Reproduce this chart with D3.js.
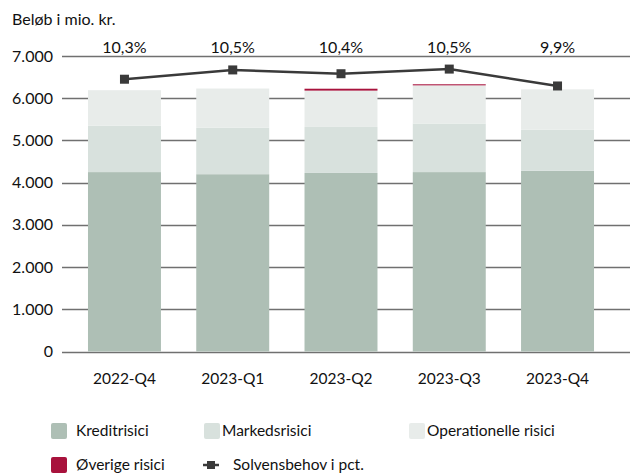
<!DOCTYPE html>
<html lang="da">
<head>
<meta charset="utf-8">
<title>Solvensbehov</title>
<script src="https://cdn.jsdelivr.net/npm/d3@7"></script>
<style>
  body { margin: 0; background: #fff; }
  text { font-family: Lato, "Open Sans", sans-serif; fill: #111; }
</style>
</head>
<body>
<script>
// data (mio. kr.)
var quarters = ["2022-Q4", "2023-Q1", "2023-Q2", "2023-Q3", "2023-Q4"];
var kredit = [4250, 4200, 4230, 4250, 4280];
var markeds = [1100, 1100, 1090, 1150, 975];
var operationel = [840, 930, 860, 905, 955];
var oevrige = [0, 0, 45, 25, 0];
var solvensBeloeb = [6450, 6670, 6580, 6690, 6290];
var solvensPct = ["10,3%", "10,5%", "10,4%", "10,5%", "9,9%"];
var yTicks = [0, 1000, 2000, 3000, 4000, 5000, 6000, 7000];

var seriesNames = ["Kreditrisici", "Markedsrisici", "Operationelle risici", "Øverige risici"];
var colors = ["#aebfb5", "#d8e1dd", "#e8ecea", "#a8123c"];

var w = 630, h = 473;

var svg = d3.select("body").append("svg")
  .attr("width", w)
  .attr("height", h);

var x = d3.scaleBand()
  .domain(quarters)
  .range([62, 620])
  .paddingInner(0.326)
  .paddingOuter(0.24);

var y = d3.scaleLinear()
  .domain([0, 7000])
  .range([351.5, 56]);

// gridlines
svg.append("g")
  .selectAll("line")
  .data(yTicks)
  .enter().append("line")
  .attr("x1", 62)
  .attr("x2", w)
  .attr("y1", function(d) { return Math.round(y(d)) + 0.5; })
  .attr("y2", function(d) { return Math.round(y(d)) + 0.5; })
  .attr("stroke", "#707070")
  .attr("stroke-width", 1.5);

// y tick labels
svg.append("g")
  .selectAll("text")
  .data(yTicks)
  .enter().append("text")
  .attr("x", 53)
  .attr("y", function(d) { return y(d); })
  .attr("dy", "0.35em")
  .attr("text-anchor", "end")
  .attr("font-size", "16px")
  .text(function(d) { return d3.format(",")(d).replace(/,/g, "."); });

svg.append("text")
  .attr("x", 12)
  .attr("y", 25)
  .attr("font-size", "16px")
  .text("Beløb i mio. kr.");

// stacked bars
var table = quarters.map(function(q, i) {
  return { q: q, k: kredit[i], m: markeds[i], o: operationel[i], v: oevrige[i] };
});
var stack = d3.stack().keys(["k", "m", "o", "v"])(table);

svg.append("g")
  .selectAll("g")
  .data(stack)
  .enter().append("g")
  .attr("fill", function(d, i) { return colors[i]; })
  .selectAll("rect")
  .data(function(d) { return d; })
  .enter().append("rect")
  .attr("x", function(d) { return x(d.data.q); })
  .attr("y", function(d) { return y(d[1]); })
  .attr("width", x.bandwidth())
  .attr("height", function(d) { return y(d[0]) - y(d[1]); });

// solvency line
var cx = function(d, i) { return x(quarters[i]) + x.bandwidth() / 2; };
var line = d3.line()
  .x(cx)
  .y(function(d) { return y(d); });

svg.append("path")
  .datum(solvensBeloeb)
  .attr("d", line)
  .attr("fill", "none")
  .attr("stroke", "#3a3a3a")
  .attr("stroke-width", 2.5);

svg.append("g")
  .selectAll("rect")
  .data(solvensBeloeb)
  .enter().append("rect")
  .attr("x", function(d, i) { return cx(d, i) - 4.5; })
  .attr("y", function(d) { return y(d) - 4.5; })
  .attr("width", 9)
  .attr("height", 9)
  .attr("fill", "#3a3a3a");

// pct labels
svg.append("g")
  .selectAll("text")
  .data(solvensPct)
  .enter().append("text")
  .attr("x", cx)
  .attr("y", 47)
  .attr("dy", "0.35em")
  .attr("text-anchor", "middle")
  .attr("font-size", "16px")
  .text(function(d) { return d; });

// x labels
svg.append("g")
  .selectAll("text")
  .data(quarters)
  .enter().append("text")
  .attr("x", function(d) { return x(d) + x.bandwidth() / 2; })
  .attr("y", 379)
  .attr("dy", "0.35em")
  .attr("text-anchor", "middle")
  .attr("font-size", "15.5px")
  .text(function(d) { return d; });

// legend
var legendItems = [
  { name: seriesNames[0], color: colors[0], x: 51, tx: 76, y: 431 },
  { name: seriesNames[1], color: colors[1], x: 204, tx: 222, y: 431 },
  { name: seriesNames[2], color: colors[2], x: 409, tx: 427, y: 431 },
  { name: seriesNames[3], color: colors[3], x: 51, tx: 76, y: 465 }
];

var lg = svg.append("g");
legendItems.forEach(function(it) {
  lg.append("rect")
    .attr("x", it.x)
    .attr("y", it.y - 8)
    .attr("width", 16)
    .attr("height", 16)
    .attr("rx", 2)
    .attr("fill", it.color);
  lg.append("text")
    .attr("x", it.tx)
    .attr("y", it.y)
    .attr("dy", "0.35em")
    .attr("font-size", "15.5px")
    .text(it.name);
});

lg.append("line")
  .attr("x1", 203).attr("x2", 219)
  .attr("y1", 465).attr("y2", 465)
  .attr("stroke", "#3a3a3a")
  .attr("stroke-width", 2.5);
lg.append("rect")
  .attr("x", 207).attr("y", 461)
  .attr("width", 8).attr("height", 8)
  .attr("fill", "#3a3a3a");
lg.append("text")
  .attr("x", 233)
  .attr("y", 465)
  .attr("dy", "0.35em")
  .attr("font-size", "15.5px")
  .text("Solvensbehov i pct.");
</script>
</body>
</html>
